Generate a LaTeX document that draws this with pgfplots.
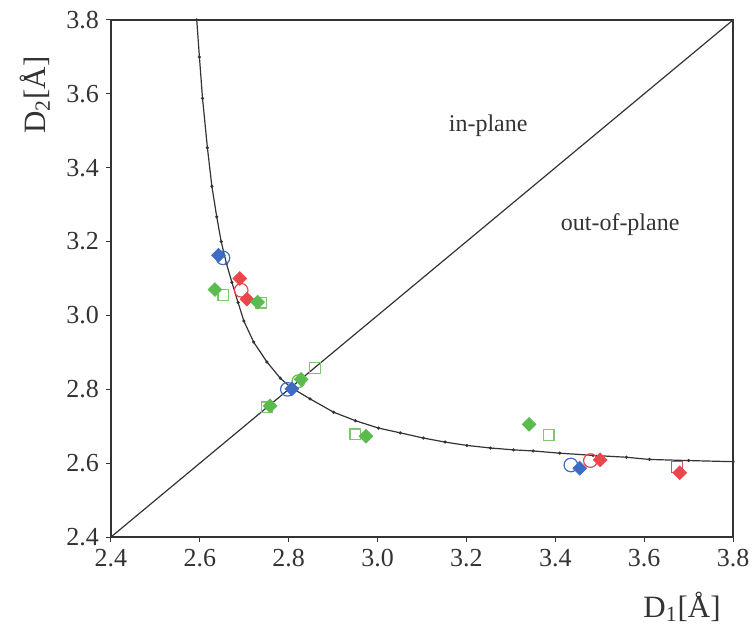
\documentclass[border=0pt]{standalone}
\usepackage{fontspec}
\setmainfont{Liberation Serif}
\usepackage{pgfplots}
\pgfplotsset{compat=1.18}
\definecolor{bl}{HTML}{3D6CC4}
\definecolor{rd}{HTML}{E9474B}
\definecolor{gr}{HTML}{5CBB4E}
\definecolor{grl}{HTML}{7DC76C}
\definecolor{ln}{HTML}{333333}
\begin{document}
\begin{tikzpicture}
\path[use as bounding box] (-55.5pt,-47pt) rectangle (321pt,268.5pt);
\begin{axis}[
  scale only axis, width=311pt, height=258.5pt,
  xmin=2.4, xmax=3.8, ymin=2.4, ymax=3.8,
  xtick={2.4,2.6,2.8,3.0,3.2,3.4,3.6,3.8},
  ytick={2.4,2.6,2.8,3.0,3.2,3.4,3.6,3.8},
  /pgf/number format/.cd, fixed, fixed zerofill, precision=1, assume math mode=true, /pgfplots/.cd,
  tick pos=left, tick align=outside, major tick length=2.5pt,
  tick style={ln, line width=0.5pt},
  ticklabel style={font=\fontsize{13}{13}\selectfont, text=ln},
  axis line style={ln, line width=0.6pt},
  xlabel={D\textsubscript{1}[Å]},
  ylabel={D\textsubscript{2}[Å]},
  label style={font=\fontsize{15.5}{15.5}\selectfont, text=ln},
  xlabel style={at={(axis description cs:0.918,-0.135)}, anchor=center},
  ylabel style={at={(axis description cs:-0.1222,0.855)}, anchor=center},
  clip=true,
]
% diagonal
\addplot[ln, line width=0.6pt] coordinates {(2.4,2.4) (3.8,3.8)};
% curve
\addplot[ln, line width=0.6pt, mark=*, mark size=0.45pt] coordinates {
(2.593,3.800) (2.599,3.700) (2.606,3.588) (2.617,3.454) (2.627,3.350)
(2.638,3.267) (2.648,3.200) (2.660,3.140) (2.672,3.090) (2.686,3.035)
(2.699,2.985) (2.721,2.928) (2.751,2.874) (2.781,2.830) (2.805,2.805)
(2.848,2.774) (2.901,2.738) (2.950,2.715) (3.002,2.695) (3.051,2.682)
(3.103,2.668) (3.152,2.657) (3.201,2.648) (3.254,2.641) (3.306,2.636)
(3.350,2.633) (3.410,2.627) (3.485,2.621) (3.560,2.616) (3.612,2.610)
(3.700,2.607) (3.800,2.604)};
% open markers
\addplot[only marks, mark=o, mark size=3.4pt, mark options={draw=bl, line width=0.6pt}] coordinates {
(2.652,3.156) (2.797,2.800) (3.435,2.595)};
\addplot[only marks, mark=o, mark size=3.4pt, mark options={draw=rd, line width=0.6pt}] coordinates {
(2.693,3.068) (3.479,2.607)};
\addplot[only marks, mark=square, mark size=2.7pt, mark options={draw=rd, line width=0.6pt}] coordinates {
(3.674,2.590)};
\addplot[only marks, mark=o, mark size=3.2pt, mark options={draw=gr, line width=0.6pt}] coordinates {
(2.822,2.822)};
\addplot[only marks, mark=square, mark size=2.7pt, mark options={draw=grl, line width=0.6pt}] coordinates {
(2.653,3.056) (2.737,3.035) (2.859,2.858) (2.751,2.751) (2.950,2.678) (3.385,2.676)};
% filled diamonds
\addplot[only marks, mark=square*, mark size=2.4pt, mark options={rotate=45, fill=bl, draw=bl}] coordinates {
(2.642,3.163) (2.807,2.801) (3.455,2.586)};
\addplot[only marks, mark=square*, mark size=2.4pt, mark options={rotate=45, fill=rd, draw=rd}] coordinates {
(2.690,3.100) (2.706,3.044) (3.501,2.609) (3.680,2.574)};
\addplot[only marks, mark=square*, mark size=2.4pt, mark options={rotate=45, fill=gr, draw=gr}] coordinates {
(2.634,3.070) (2.730,3.036) (2.828,2.827) (2.758,2.755) (2.974,2.673) (3.341,2.705)};
\node[font=\fontsize{12}{12}\selectfont, text=ln] at (axis cs:3.249,3.513) {in-plane};
\node[font=\fontsize{12}{12}\selectfont, text=ln] at (axis cs:3.546,3.247) {out-of-plane};
\end{axis}
\end{tikzpicture}
\end{document}
